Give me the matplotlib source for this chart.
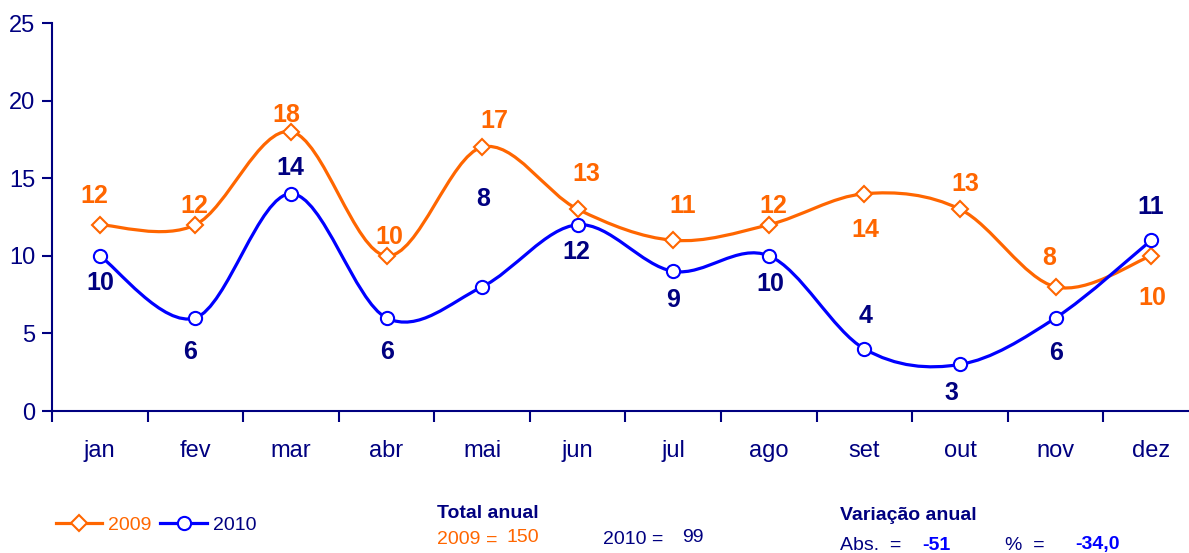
import matplotlib
matplotlib.use("Agg")
import matplotlib.pyplot as plt
from matplotlib.path import Path
from matplotlib.patches import PathPatch
from matplotlib.lines import Line2D

plt.rcParams['font.family'] = ['Liberation Sans Narrow', 'Liberation Sans', 'DejaVu Sans']

months = ["jan", "fev", "mar", "abr", "mai", "jun", "jul", "ago", "set", "out", "nov", "dez"]
v2009 = [12, 12, 18, 10, 17, 13, 11, 12, 14, 13, 8, 10]
v2010 = [10, 6, 14, 6, 8, 12, 9, 10, 4, 3, 6, 11]
# label offsets from the point, in pixels (dx, dy with dy up)
off2009 = [(-5, 29), (-1, 19), (-5, 17), (3, 19), (12, 26), (9, 35),
           (9, 34), (4, 19), (1, -36), (5, 25), (-6, 29), (1, -42)]
off2010 = [(1, -27), (-5, -34), (-1, 26), (1, -34), (1, 88), (-1, -27),
           (0, -29), (1, -28), (1, 33), (-9, -29), (0, -35), (-1, 33)]

ORANGE = "#FF6600"
BLUE = "#0000FF"
NAVY = "#000080"

W, H = 1189, 553


def smooth_path(xs, ys):
    # Catmull-Rom as cubic Bezier segments (like Excel smoothed lines)
    pts = list(zip(xs, ys))
    verts = [pts[0]]
    codes = [Path.MOVETO]
    n = len(pts)
    for i in range(n - 1):
        p0 = pts[i - 1] if i > 0 else pts[i]
        p1 = pts[i]
        p2 = pts[i + 1]
        p3 = pts[i + 2] if i + 2 < n else pts[i + 1]
        c1 = (p1[0] + (p2[0] - p0[0]) / 6, p1[1] + (p2[1] - p0[1]) / 6)
        c2 = (p2[0] - (p3[0] - p1[0]) / 6, p2[1] - (p3[1] - p1[1]) / 6)
        verts += [c1, c2, p2]
        codes += [Path.CURVE4] * 3
    return Path(verts, codes)


fig = plt.figure(figsize=(W / 100, H / 100), dpi=100)
ax = fig.add_axes([52 / W, 142 / H, 1147 / W, 388 / H])

x = list(range(len(months)))
for vals, col, mk, ms in [(v2009, ORANGE, "D", 8), (v2010, BLUE, "o", 9.5)]:
    ax.add_patch(PathPatch(smooth_path(x, vals), facecolor="none", edgecolor=col, lw=2.3, zorder=2))
    ax.plot(x, vals, ls="none", marker=mk, ms=ms, mfc="white", mec=col, mew=1.5, zorder=3)

for xi, v, o in zip(x, v2009, off2009):
    ax.annotate(str(v), (xi, v), xytext=o, textcoords="offset pixels",
                ha="center", va="center", color=ORANGE, fontsize=18, fontweight="bold")
for xi, v, o in zip(x, v2010, off2010):
    ax.annotate(str(v), (xi, v), xytext=o, textcoords="offset pixels",
                ha="center", va="center", color=NAVY, fontsize=18, fontweight="bold")

ax.set_xlim(-0.5, 11.5)
ax.set_ylim(0, 25)
ax.set_yticks(range(0, 26, 5))
ax.set_xticks(x)
ax.set_xticklabels(months)
ax.set_xticks([i - 0.5 for i in range(13)], minor=True)
ax.tick_params(axis="x", which="major", length=0, pad=21, labelsize=17, labelcolor=NAVY)
ax.tick_params(axis="x", which="minor", length=8, width=1.5, color=NAVY, direction="out")
ax.tick_params(axis="y", length=7, width=1.5, color=NAVY, labelsize=17, labelcolor=NAVY, pad=5)
for s in ["top", "right"]:
    ax.spines[s].set_visible(False)
for s in ["left", "bottom"]:
    ax.spines[s].set_color(NAVY)
    ax.spines[s].set_linewidth(1.5)

# legend
handles = [Line2D([], [], color=ORANGE, lw=2.3, marker="D", ms=8, mfc="white", mec=ORANGE, mew=1.5),
           Line2D([], [], color=BLUE, lw=2.3, marker="o", ms=9.5, mfc="white", mec=BLUE, mew=1.5)]
leg = fig.legend(handles, ["2009", "2010"], loc="center left", bbox_to_anchor=(48 / W, 1 - 525 / H),
                 ncol=2, frameon=False, fontsize=14, handlelength=2.4, handletextpad=0.3,
                 columnspacing=0.45, borderaxespad=0)
leg.get_texts()[0].set_color(ORANGE)
leg.get_texts()[1].set_color(NAVY)


def ftext(px, py, s, **kw):
    fig.text(px / W, 1 - py / H, s, va="center", ha="left", fontsize=14, **kw)


ftext(437, 514, "Total anual", color=NAVY, fontweight="bold")
ftext(437, 540, "2009", color=ORANGE)
ftext(486, 540, "=", color=ORANGE)
ftext(506, 538, "150", color=ORANGE)
ftext(603, 540, "2010 =", color=NAVY)
ftext(682, 538, "99", color=NAVY)

ftext(840, 516, "Variação anual", color=NAVY, fontweight="bold")
ftext(840, 545, "Abs.  =", color=NAVY)
ftext(922, 545, "-51", color=BLUE, fontweight="bold")
ftext(1005, 545, "%  =", color=NAVY)
ftext(1075, 545, "-34,0", color=BLUE, fontweight="bold")

fig.savefig("out.png", dpi=100)
